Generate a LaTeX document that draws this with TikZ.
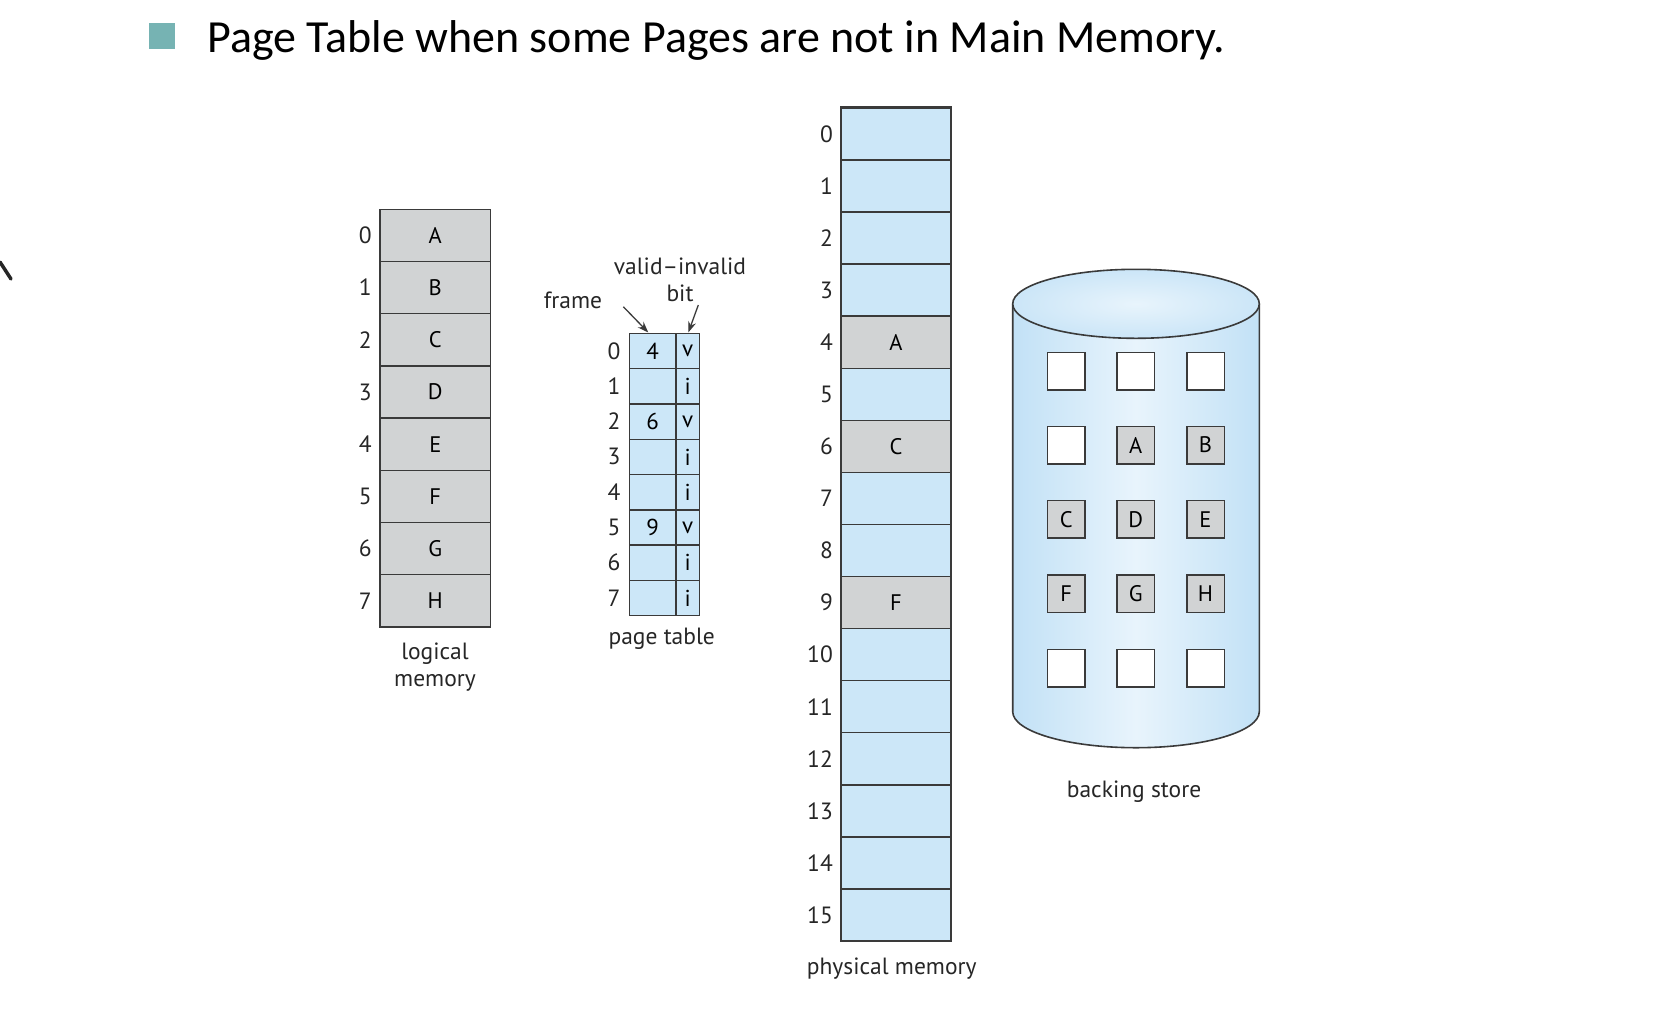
\documentclass[tikz,border=0pt]{standalone}
\usepackage{fontspec}
\setmainfont{PT Sans}
\newfontfamily\titlefont{Carlito}
\usetikzlibrary{arrows.meta}
\definecolor{cellgray}{HTML}{D1D3D4}
\definecolor{cellblue}{HTML}{CCE7F8}
\definecolor{edgec}{HTML}{3A3A3A}
\definecolor{bulletc}{HTML}{76B3B3}
\definecolor{cylside}{HTML}{C2E1F6}
\definecolor{cylmid}{HTML}{E8F4FC}
\begin{document}
\begin{tikzpicture}[x=1pt,y=-1pt,
  lbl/.style={font=\fontsize{23.5}{27}\selectfont, inner sep=0pt, text=black!85},
  lcell/.style={draw=edgec, line width=1.5pt, fill=cellgray, minimum width=110.5pt, minimum height=52.2pt, inner sep=0pt, font=\fontsize{22.5}{25}\selectfont},
  ptf/.style={draw=edgec, line width=1.4pt, fill=cellblue, minimum width=46.7pt, minimum height=35.3pt, inner sep=0pt, font=\fontsize{23}{25}\selectfont},
  ptb/.style={draw=edgec, line width=1.4pt, fill=cellblue, minimum width=23.3pt, minimum height=35.3pt, inner sep=0pt, font=\fontsize{23}{25}\selectfont},
  pcell/.style={draw=edgec, line width=1.5pt, fill=cellblue, minimum width=110pt, minimum height=52.06pt, inner sep=0pt, font=\fontsize{22.5}{25}\selectfont},
  sq/.style={draw=edgec, line width=1.5pt, fill=white, minimum size=37.5pt, inner sep=0pt, font=\fontsize{22.5}{25}\selectfont},
  pointer/.style={-{Stealth[length=11pt,width=8pt]}, line width=1.3pt, edgec}]
\useasboundingbox (0,0) rectangle (1662,1023);

% stray mark
\draw[line width=3.5pt, line cap=round, black!85] (0,262) -- (11,279);

% title
\node[fill=bulletc, minimum size=26pt, inner sep=0pt] (bul) at (161.6,36) {};
\node[anchor=west, inner sep=0pt, font=\titlefont\fontsize{46}{54}\selectfont] (title) at (207,40) {Page Table when some Pages are not in Main Memory.};

% logical memory
\foreach \l [count=\i from 0] in {A,B,C,D,E,F,G,H} {
  \node[lcell] (lm\i) at (435.3, 235.4+52.2*\i) {\l};
  \node[lbl, anchor=east] (ln\i) at (372, 235.4+52.2*\i) {\i};
}
\node[lbl, align=center] (lmlabel) at (435,667) {logical\\memory};

% page table
\foreach \f/\b [count=\i from 0] in {4/v,/i,6/v,/i,/i,9/v,/i,/i} {
  \node[ptf] (pf\i) at (652.65, 350.95+35.3*\i) {\f};
  \node[ptb] (pb\i) at (687.65, 350.95+35.3*\i) {\b};
  \node[lbl, anchor=east] (pn\i) at (620.5, 350.95+35.3*\i) {\i};
}
\node[lbl] (ptlabel) at (661.7,639) {page table};
\node[lbl] (framelbl) at (573,300) {frame};
\node[lbl, align=center] (bitlbl) at (680,280) {valid–invalid\\bit};
\coordinate (fs) at (623.3,306.7);
\coordinate (fe) at (648.3,332.5);
\coordinate (bs) at (698.3,305);
\coordinate (be) at (688.3,332.5);
\draw[pointer] (fs) -- (fe);
\draw[pointer] (bs) -- (be);

% physical memory
\foreach \i in {0,...,15} {
  \node[pcell] (pm\i) at (896, 134.03+52.06*\i) {};
  \node[lbl, anchor=east] (pmn\i) at (833, 134.03+52.06*\i) {\i};
}
\foreach \i/\l in {4/A,6/C,9/F} {
  \node[pcell, fill=cellgray] (pmx\i) at (896, 134.03+52.06*\i) {\l};
}
\draw[line width=3pt, edgec] (pm0.north west) -- (pm0.north east);
\node[lbl] (pmlabel) at (891.7,969) {physical memory};

% backing store cylinder
\path[left color=cylside, right color=cylside, middle color=cylmid]
  (1012.7,303.8) -- (1012.7,711.7) arc[start angle=180, end angle=360, x radius=123.3pt, y radius=36pt]
  -- (1259.3,303.8) arc[start angle=0, end angle=180, x radius=123.3pt, y radius=34.5pt] -- cycle;
\draw[edgec, line width=1.6pt]
  (1012.7,303.8) -- (1012.7,711.7) arc[start angle=180, end angle=360, x radius=123.3pt, y radius=36pt]
  -- (1259.3,303.8);
\draw[edgec, line width=1.6pt, inner color=cylmid, outer color=cylside!85!white] (1136,303.8) ellipse [x radius=123.3pt, y radius=34.5pt];
\foreach \y [count=\r from 0] in {371.2,445,519.2,593.8,668.3} {
  \foreach \x [count=\c from 0] in {1066.2,1135.8,1205.5} {
    \node[sq] (bs\r\c) at (\x,\y) {};
  }
}
\node[sq, fill=cellgray] (bsA) at (bs11) {A};
\node[sq, fill=cellgray] (bsB) at (bs12) {B};
\node[sq, fill=cellgray] (bsC) at (bs20) {C};
\node[sq, fill=cellgray] (bsD) at (bs21) {D};
\node[sq, fill=cellgray] (bsE) at (bs22) {E};
\node[sq, fill=cellgray] (bsF) at (bs30) {F};
\node[sq, fill=cellgray] (bsG) at (bs31) {G};
\node[sq, fill=cellgray] (bsH) at (bs32) {H};
\node[lbl] (bslabel) at (1134,792) {backing store};
\end{tikzpicture}
\end{document}
